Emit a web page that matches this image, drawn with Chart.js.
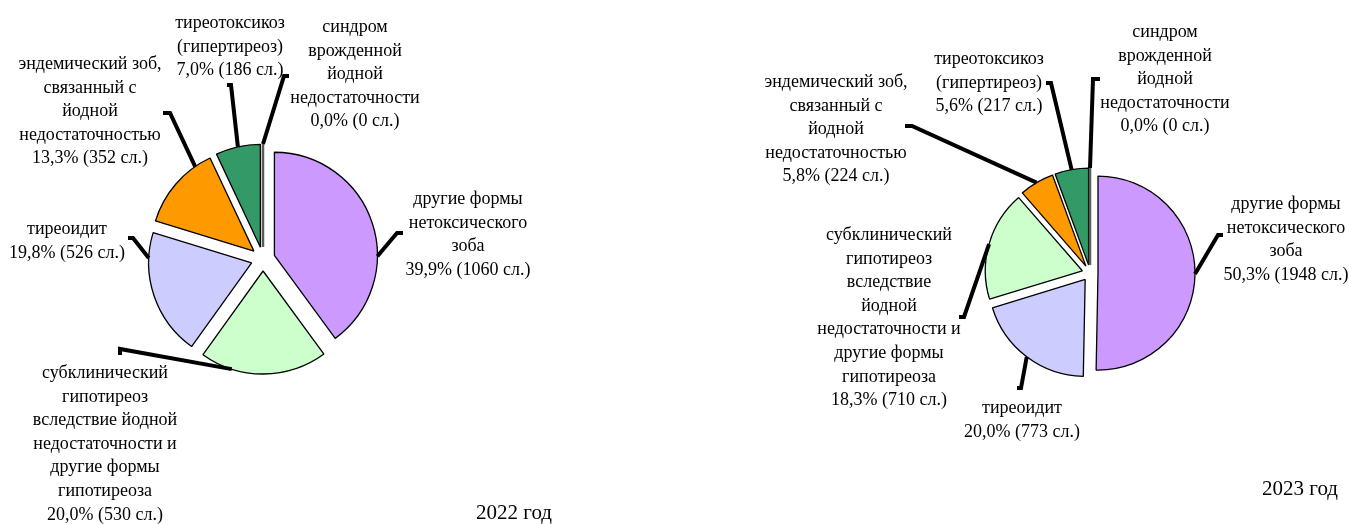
<!DOCTYPE html>
<html lang="ru">
<head>
<meta charset="utf-8">
<script src="https://cdn.jsdelivr.net/npm/chart.js@4.4.1/dist/chart.umd.min.js"></script>
<style>
  html, body { margin: 0; padding: 0; background: #ffffff; }
  #wrap { position: relative; width: 1349px; height: 524px; overflow: hidden; }
  #wrap canvas { position: absolute; left: 0; top: 0; }
</style>
</head>
<body>
<div id="wrap">
  <canvas id="pie2022" width="1349" height="524"></canvas>
  <canvas id="pie2023" width="1349" height="524"></canvas>
</div>
<script>
// ---- Данные: структура заболеваний щитовидной железы (число случаев) ----
const categories2022 = [
  'другие формы нетоксического зоба',
  'субклинический гипотиреоз вследствие йодной недостаточности и другие формы гипотиреоза',
  'тиреоидит',
  'эндемический зоб, связанный с йодной недостаточностью',
  'тиреотоксикоз (гипертиреоз)',
  'синдром врожденной йодной недостаточности'
];
const cases2022 = [1060, 530, 526, 352, 186, 0];
const labelLines2022 = [
  ['другие формы', 'нетоксического', 'зоба'],
  ['субклинический', 'гипотиреоз', 'вследствие йодной', 'недостаточности и', 'другие формы', 'гипотиреоза'],
  ['тиреоидит'],
  ['эндемический зоб,', 'связанный с', 'йодной', 'недостаточностью'],
  ['тиреотоксикоз', '(гипертиреоз)'],
  ['синдром', 'врожденной', 'йодной', 'недостаточности']
];

const categories2023 = [
  'другие формы нетоксического зоба',
  'тиреоидит',
  'субклинический гипотиреоз вследствие йодной недостаточности и другие формы гипотиреоза',
  'эндемический зоб, связанный с йодной недостаточностью',
  'тиреотоксикоз (гипертиреоз)',
  'синдром врожденной йодной недостаточности'
];
const cases2023 = [1948, 773, 710, 224, 217, 0];
const labelLines2023 = [
  ['другие формы', 'нетоксического', 'зоба'],
  ['тиреоидит'],
  ['субклинический', 'гипотиреоз', 'вследствие', 'йодной', 'недостаточности и', 'другие формы', 'гипотиреоза'],
  ['эндемический зоб,', 'связанный с', 'йодной', 'недостаточностью'],
  ['тиреотоксикоз', '(гипертиреоз)'],
  ['синдром', 'врожденной', 'йодной', 'недостаточности']
];

const yearTitles = ['2022 год', '2023 год'];

// ---- Оформление ----
const categoryColors = {
  'другие формы нетоксического зоба': '#CC99FF',
  'субклинический гипотиреоз вследствие йодной недостаточности и другие формы гипотиреоза': '#CCFFCC',
  'тиреоидит': '#CCCCFF',
  'эндемический зоб, связанный с йодной недостаточностью': '#FF9900',
  'тиреотоксикоз (гипертиреоз)': '#339966',
  'синдром врожденной йодной недостаточности': '#808080'
};

const FONT_FAMILY = '"Liberation Serif", "Times New Roman", serif';
const LABEL_FONT = '18px ' + FONT_FAMILY;
const TITLE_FONT = '21px ' + FONT_FAMILY;
const LINE_HEIGHT = 23.6;

// Положение круга, подписей и выносок (в пикселях холста)
const layout2022 = {
  center: [263, 259], radius: 103, explode: 12,
  title: [514, 512],
  callouts: [
    { x: 468, y: 199, start: 0.63, elbow: [397, 233], foot: [403, 233] },
    { x: 105, y: 373, start: 0.75, elbow: [120, 349], foot: [120, 355] },
    { x: 67,  y: 229, start: 0.80, elbow: [133, 238], foot: [128, 238] },
    { x: 90,  y: 64,  start: 0.80, elbow: [170, 113], foot: [163, 113] },
    { x: 230, y: 23,  start: 0.50, elbow: [231, 85],  foot: [227, 85] },
    { x: 355, y: 27,  start: 0.50, elbow: [284, 76],  foot: [289, 76] }
  ]
};
const layout2023 = {
  center: [1090, 273], radius: 97, explode: 8,
  title: [1300, 488],
  callouts: [
    { x: 1286, y: 204, start: 0.50, elbow: [1218, 235], foot: [1223, 235] },
    { x: 1022, y: 408, start: 0.50, elbow: [1021, 388], foot: [1017, 388] },
    { x: 889,  y: 235, start: 0.50, elbow: [964, 317],  foot: [959, 317] },
    { x: 836,  y: 82,  start: 0.50, elbow: [912, 126],  foot: [905, 126] },
    { x: 989,  y: 59,  start: 0.50, elbow: [1051, 83],  foot: [1046, 83] },
    { x: 1165, y: 32,  start: 0.50, elbow: [1093, 79],  foot: [1100, 79] }
  ]
};

function formatShare(value, total) {
  const pct = (total ? value / total * 100 : 0).toFixed(1).replace('.', ',');
  return pct + '% (' + value + ' сл.)';
}

// Смещение секторов от центра (разрезанная круговая диаграмма)
function explodedSlices(distance) {
  return {
    id: 'explodedSlices',
    beforeDatasetDraw(chart, args) {
      const ctx = chart.ctx;
      args.meta.data.forEach((arc) => {
        const mid = (arc.startAngle + arc.endAngle) / 2;
        const dx = Math.cos(mid) * distance;
        const dy = Math.sin(mid) * distance;
        ctx.save();
        ctx.translate(dx, dy);
        if (arc.endAngle - arc.startAngle < 1e-9) {
          // нулевой сектор виден только как граница
          ctx.beginPath();
          ctx.moveTo(arc.x, arc.y);
          ctx.lineTo(arc.x + Math.cos(arc.startAngle) * arc.outerRadius,
                     arc.y + Math.sin(arc.startAngle) * arc.outerRadius);
          ctx.lineWidth = 2.5;
          ctx.strokeStyle = '#5a5a5a';
          ctx.stroke();
        } else {
          arc.draw(ctx);
        }
        ctx.restore();
      });
      return false;
    }
  };
}

// Подписи секторов с выносками и подпись года
function pieCallouts(lay, lines, title) {
  return {
    id: 'pieCallouts',
    afterDraw(chart) {
      const ctx = chart.ctx;
      const meta = chart.getDatasetMeta(0);
      const data = chart.data.datasets[0].data;
      const total = data.reduce((s, v) => s + v, 0);
      ctx.save();
      lay.callouts.forEach((c, i) => {
        const arc = meta.data[i];
        const mid = (arc.startAngle + arc.endAngle) / 2;
        const ox = Math.cos(mid) * lay.explode;
        const oy = Math.sin(mid) * lay.explode;
        const a = arc.startAngle + c.start * (arc.endAngle - arc.startAngle);
        const sx = arc.x + ox + Math.cos(a) * arc.outerRadius;
        const sy = arc.y + oy + Math.sin(a) * arc.outerRadius;
        ctx.beginPath();
        ctx.moveTo(sx, sy);
        ctx.lineTo(c.elbow[0], c.elbow[1]);
        ctx.lineTo(c.foot[0], c.foot[1]);
        ctx.lineWidth = 4;
        ctx.lineJoin = 'miter';
        ctx.lineCap = 'butt';
        ctx.strokeStyle = '#000000';
        ctx.stroke();

        const text = lines[i].concat([formatShare(data[i], total)]);
        ctx.font = LABEL_FONT;
        ctx.fillStyle = '#000000';
        ctx.textAlign = 'center';
        ctx.textBaseline = 'alphabetic';
        text.forEach((t, k) => {
          ctx.fillText(t, c.x, c.y + k * LINE_HEIGHT + 5);
        });
      });
      ctx.font = TITLE_FONT;
      ctx.textAlign = 'center';
      ctx.textBaseline = 'alphabetic';
      ctx.fillText(title, lay.title[0], lay.title[1] + 7);
      ctx.restore();
    }
  };
}

function makePie(canvasId, categories, cases, lines, lay, title) {
  const W = 1349, H = 524, half = 150;
  const cx = lay.center[0], cy = lay.center[1];
  return new Chart(document.getElementById(canvasId), {
    type: 'pie',
    data: {
      labels: categories,
      datasets: [{
        data: cases,
        backgroundColor: categories.map((c) => categoryColors[c]),
        borderColor: '#000000',
        borderWidth: 1.3,
        radius: lay.radius
      }]
    },
    options: {
      responsive: false,
      animation: false,
      devicePixelRatio: 1,
      events: [],
      radius: lay.radius,
      layout: {
        padding: { left: cx - half, right: W - cx - half, top: cy - half, bottom: H - cy - half }
      },
      plugins: {
        legend: { display: false },
        tooltip: { enabled: false }
      }
    },
    plugins: [explodedSlices(lay.explode), pieCallouts(lay, lines, title)]
  });
}

makePie('pie2022', categories2022, cases2022, labelLines2022, layout2022, yearTitles[0]);
makePie('pie2023', categories2023, cases2023, labelLines2023, layout2023, yearTitles[1]);
</script>
</body>
</html>
